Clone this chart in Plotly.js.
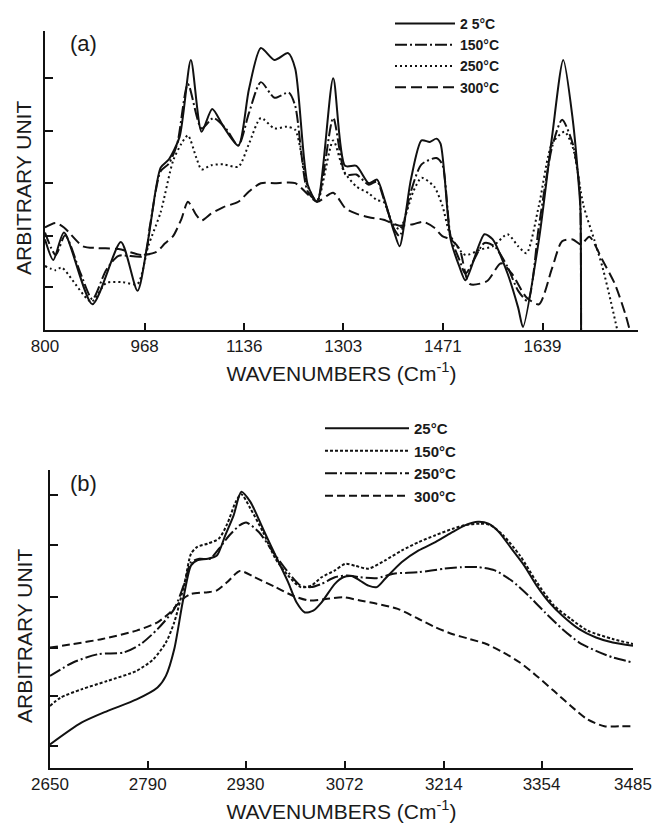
<!DOCTYPE html>
<html>
<head>
<meta charset="utf-8">
<script src="https://cdn.plot.ly/plotly-3.0.1.min.js"></script>
<style>
  html, body { margin: 0; padding: 0; background: #fff; }
  #chart { width: 656px; height: 824px; }
</style>
</head>
<body>
<div id="chart"></div>
<script>
// ---- Panel (a): 800-1800 cm-1 ----
const a_ticks = [800, 968, 1136, 1303, 1471, 1639, 1800];

const a_wn_25 = [800,814,832,880,928,956,974,995,1009,1027,1046,1064,1082,1101,1126,1144,1164,1187,1210,1222,1243,1259,1286,1306,1325,1346,1360,1371,1389,1398,1417,1435,1449,1460,1467,1484,1499,1509,1541,1555,1580,1598,1606,1633,1655,1674,1690,1701,1703,1704];
const a_v_25  = [30.3,23.4,32.6,8.6,29.4,13.1,30.3,54.3,57.1,64.6,90.3,66.3,73.9,68,61.7,80.6,94.3,90.3,92.6,87.4,48.6,42.9,84.2,54.9,54.9,49.1,50.3,44.6,32.6,28,50.3,63.4,62.9,64,62.3,30.3,21.1,16.6,32,30.3,18.9,7.4,1,30.3,64.6,90.3,70.3,46.3,40,0];

const a_wn_150 = [800,818,834,860,880,903,924,967,977,995,1009,1023,1041,1064,1084,1105,1126,1144,1164,1187,1211,1222,1243,1259,1286,1307,1325,1346,1360,1371,1389,1398,1417,1435,1460,1470,1484,1499,1509,1541,1558,1580,1598,1614,1633,1655,1672,1690,1701,1703,1704];
const a_v_150  = [32.6,25.1,31.7,18.9,10.3,20,24.8,24.8,34.9,53.1,55.7,62.3,82.3,67.4,70.9,67.4,61.7,72.6,82.9,77.7,79.4,74.9,46.3,43.4,70.9,52,52,48.6,49.7,44,33.7,31.4,46.3,55.4,57.5,55.4,31.4,23.4,18.9,29.1,28,21.1,13.1,9.7,34.9,61.1,70.3,62.3,48.6,40,0];

const a_wn_250 = [800,818,828,878,903,931,956,974,995,1016,1030,1041,1055,1064,1080,1101,1126,1144,1164,1187,1208,1222,1243,1259,1286,1304,1325,1346,1360,1371,1385,1398,1421,1435,1456,1470,1484,1509,1534,1555,1580,1598,1612,1633,1655,1676,1690,1708,1726,1740,1754,1765];
const a_v_250  = [21.4,20,20.9,9.5,15.7,16,15.4,28,39.4,56.6,62.3,65.1,57.7,53.7,55.1,55.4,54.6,62.3,70.9,67.4,68,66.9,48,42.9,63.4,53.1,48,45.7,43.4,42.9,36,33.7,46.3,50.9,48,41.7,31.4,25.1,26.9,28,32,28,25.7,41.7,62.3,66.3,61.1,41.7,30.3,21.1,9.7,0];

const a_wn_300 = [800,818,832,864,889,924,963,988,1002,1016,1030,1041,1055,1064,1080,1101,1126,1144,1164,1187,1222,1243,1259,1286,1307,1325,1346,1371,1389,1398,1421,1438,1456,1470,1484,1499,1516,1545,1569,1587,1612,1633,1655,1672,1690,1704,1718,1740,1761,1779,1786];
const a_v_300  = [34.3,35.8,34.3,28,27.4,27.1,25.1,26.1,28.9,31.4,37.1,42.9,38.5,36.6,38.9,41.1,42.9,46.3,49.1,49.1,49.1,45.4,42.9,45.9,40.6,38.9,37.7,36.9,35.4,34.9,35.4,36.2,34.3,31.4,30.3,27.1,15.4,16.3,22.3,18.9,10.9,8.6,20.6,29.7,30.3,28.6,31.2,23.4,15.4,5.1,0];

const a_yticks = [14.5, 31.4, 49.1, 66.5, 84.2, 100];

// ---- Panel (b): 2650-3485 cm-1 ----
const b_ticks = [2650, 2790, 2930, 3072, 3214, 3354, 3485];

const b_wn_25 = [2650,2695,2732,2774,2804,2816,2828,2840,2852,2861,2876,2889,2901,2913,2924,2937,2955,2973,2991,3003,3015,3027,3039,3058,3070,3082,3094,3106,3118,3130,3154,3178,3202,3227,3245,3263,3278,3293,3311,3329,3347,3365,3384,3408,3432,3456,3485];
const b_v_25  = [7.9,15.2,19.1,23,27,30.9,39.9,55.6,68,69.7,70.2,71.3,78.1,84.8,92.7,89.3,80.3,71.3,62.4,55.6,52.2,52.8,55.6,61.8,64,64.4,62.9,61.2,60.7,63.5,69.1,73,75.8,79.2,81.5,82.6,82,79.2,73.6,68,61.2,55.6,51.1,46.6,43.8,42.1,41];

const b_wn_150 = [2650,2665,2695,2732,2774,2798,2816,2828,2843,2852,2861,2876,2892,2904,2916,2924,2937,2955,2973,2991,3009,3024,3039,3058,3073,3088,3106,3130,3154,3178,3202,3227,3245,3266,3281,3299,3323,3347,3372,3396,3420,3456,3485];
const b_v_150  = [20.8,23.6,26.4,29.2,32.6,36.5,42.1,48.9,62.4,71.9,74.2,75.3,77,82,89.3,91.9,87.1,79.2,70.2,64.6,60.7,61.2,64,66.3,68.5,67.8,66.9,69.7,73,75.8,78.1,80.3,81.5,82,81.5,78.1,71.3,62.4,54.5,50,46.1,43.3,41.6];

const b_wn_250 = [2650,2683,2719,2756,2780,2804,2828,2843,2852,2864,2879,2892,2907,2922,2931,2949,2973,2991,3009,3024,3039,3058,3076,3094,3118,3142,3178,3215,3239,3263,3287,3311,3335,3359,3384,3408,3432,3456,3485];
const b_v_250  = [30.9,35.4,38.2,38.8,41.6,46.6,53.4,62.4,69.1,70.2,70.2,73.6,78.1,81.5,82.4,79.2,71.3,65.7,61.2,60.7,61.8,64,64.6,64,63.7,65.2,65.7,66.9,67.4,67.4,66.3,62.9,57.9,52.2,46.6,42.1,39.3,37.1,35.4];

const b_wn_300 = [2650,2683,2725,2774,2804,2822,2840,2852,2876,2889,2904,2922,2943,2973,2997,3021,3045,3070,3094,3118,3148,3178,3202,3227,3251,3275,3299,3323,3347,3372,3396,3420,3444,3465,3485];
const b_v_300  = [40.4,41.6,43.3,46.1,48.9,52.2,56.7,58.4,59,59.6,62.4,66.1,64,60.7,57.9,56.2,56.7,57.3,56.2,55.1,53.4,50,47.2,44.9,43.3,41.6,38.8,35.4,30.9,25.8,20.8,16.3,14,14,14];

const b_yticks = [7.5, 24.2, 40.4, 57.5, 74.7, 91.6];

// ---- page geometry helpers (pixel -> paper fraction) ----
const W = 656, H = 824;
const fx = px => px / W;
const fy = py => 1 - py / H;

const TXT = '#1a1a1a';
const BASE_FONT = 'Liberation Sans, Arial, sans-serif';

function curve(x, y, name, dash, xa, ya, legend) {
  return {
    x: x, y: y, name: name, type: 'scatter', mode: 'lines',
    xaxis: xa, yaxis: ya, legend: legend,
    line: { color: '#111', width: 2, dash: dash, shape: 'spline', smoothing: 0.7 },
    hoverinfo: 'skip'
  };
}

const traces = [
  curve(a_wn_25,  a_v_25,  '2 5°C', 'solid', 'x', 'y', 'legend'),
  curve(a_wn_150, a_v_150, '150°C', '12px,3px,2px,3px', 'x', 'y', 'legend'),
  curve(a_wn_250, a_v_250, '250°C', '2px,3px', 'x', 'y', 'legend'),
  curve(a_wn_300, a_v_300, '300°C', '11px,5px', 'x', 'y', 'legend'),
  curve(b_wn_25,  b_v_25,  '25°C',  'solid', 'x2', 'y2', 'legend2'),
  curve(b_wn_150, b_v_150, '150°C', '3px,2px', 'x2', 'y2', 'legend2'),
  curve(b_wn_250, b_v_250, '250°C', '12px,3px,2px,3px', 'x2', 'y2', 'legend2'),
  curve(b_wn_300, b_v_300, '300°C', '8px,4px', 'x2', 'y2', 'legend2')
];

function xAxis(ticks, range, dom, anchor) {
  return {
    domain: dom, anchor: anchor, range: range,
    tickmode: 'array', tickvals: ticks, ticktext: ticks.map(String),
    ticks: 'inside', ticklen: 7, tickwidth: 2, tickcolor: '#111',
    showline: true, linecolor: '#111', linewidth: 2,
    showgrid: false, zeroline: false,
    tickfont: { family: BASE_FONT, size: 17, color: TXT },
    title: { text: 'WAVENUMBERS (Cm<sup>-1</sup>)', standoff: 11,
             font: { family: BASE_FONT, size: 21, color: TXT } }
  };
}
function yAxis(ticks, dom, anchor) {
  return {
    domain: dom, anchor: anchor, range: [0, 100],
    tickmode: 'array', tickvals: ticks, showticklabels: false,
    ticks: 'inside', ticklen: 8, tickwidth: 2, tickcolor: '#111',
    showline: true, linecolor: '#111', linewidth: 2,
    showgrid: false, zeroline: false
  };
}

const layout = {
  width: W, height: H,
  margin: { l: 0, r: 0, t: 0, b: 0 },
  paper_bgcolor: '#fff', plot_bgcolor: '#fff',
  showlegend: true,
  xaxis:  xAxis(a_ticks, [800, 1800], [fx(45), fx(638)], 'y'),
  yaxis:  yAxis(a_yticks, [fy(330), fy(31)], 'x'),
  xaxis2: xAxis(b_ticks, [2650, 3485], [fx(50), fx(633)], 'y2'),
  yaxis2: yAxis(b_yticks, [fy(768), fy(470)], 'x2'),
  legend: {
    x: fx(390), y: fy(8), xanchor: 'left', yanchor: 'top',
    bgcolor: 'rgba(0,0,0,0)', itemwidth: 60, tracegroupgap: 0,
    font: { family: BASE_FONT, size: 14, color: TXT, weight: 'bold' }
  },
  legend2: {
    x: fx(320), y: fy(412), xanchor: 'left', yanchor: 'top',
    bgcolor: 'rgba(0,0,0,0)', itemwidth: 84, tracegroupgap: 0,
    font: { family: BASE_FONT, size: 15, color: TXT, weight: 'bold' }
  },
  annotations: [
    { text: '(a)', xref: 'paper', yref: 'paper', x: fx(68), y: fy(43),
      xanchor: 'left', yanchor: 'middle',
      showarrow: false, font: { family: BASE_FONT, size: 22, color: TXT } },
    { text: '(b)', xref: 'paper', yref: 'paper', x: fx(68), y: fy(483),
      xanchor: 'left', yanchor: 'middle',
      showarrow: false, font: { family: BASE_FONT, size: 22, color: TXT } },
    { text: 'ARBITRARY UNIT', xref: 'paper', yref: 'paper', x: fx(23), y: fy(188),
      xanchor: 'center', yanchor: 'middle',
      textangle: -90, showarrow: false, font: { family: BASE_FONT, size: 21, color: TXT } },
    { text: 'ARBITRARY UNIT', xref: 'paper', yref: 'paper', x: fx(24), y: fy(636),
      xanchor: 'center', yanchor: 'middle',
      textangle: -90, showarrow: false, font: { family: BASE_FONT, size: 21, color: TXT } }
  ]
};

Plotly.newPlot('chart', traces, layout, { staticPlot: true, displayModeBar: false });
</script>
</body>
</html>
